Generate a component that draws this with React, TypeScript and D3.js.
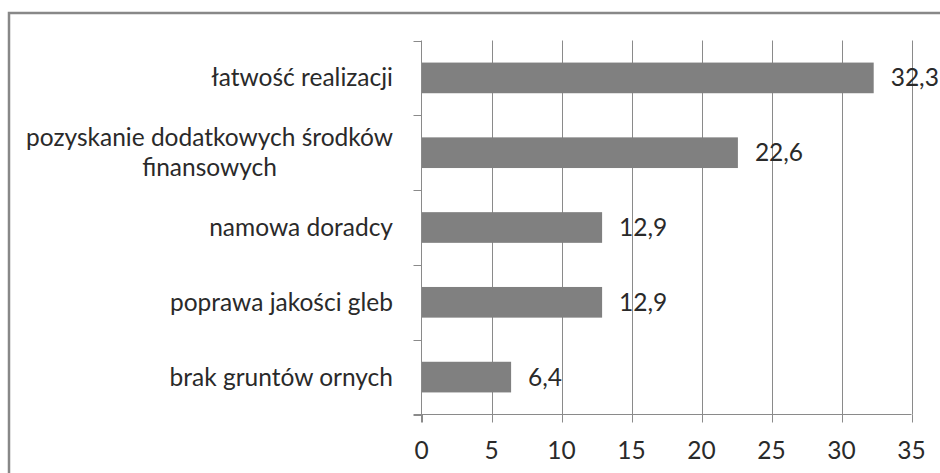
import React, { useEffect, useRef } from 'react';
import * as d3 from 'd3';

// values
const categories = [
  'łatwość realizacji',
  'pozyskanie dodatkowych środków\nfinansowych',
  'namowa doradcy',
  'poprawa jakości gleb',
  'brak gruntów ornych',
];
const values = [32.3, 22.6, 12.9, 12.9, 6.4];
const valueLabels = ['32,3', '22,6', '12,9', '12,9', '6,4'];
const xTicks = [0, 5, 10, 15, 20, 25, 30, 35];

const W = 940;
const H = 473;
const FONT = 'Lato, "Open Sans", sans-serif';
const FS = 24.5;

export default function App() {
  const ref = useRef<SVGSVGElement>(null);

  useEffect(() => {
    const svg = d3.select(ref.current);
    svg.selectAll('*').remove();

    const left = 421.5, right = 911.5, top = 40.5, bottom = 414.5;

    const x = d3.scaleLinear().domain([0, 35]).range([left, right]);
    const y = d3.scaleBand<number>()
      .domain(d3.range(categories.length))
      .range([top, bottom])
      .paddingInner(0.59)
      .paddingOuter(0.295);

    // outer frame
    svg.append('rect')
      .attr('x', 9).attr('y', 13)
      .attr('width', W + 20).attr('height', H + 20)
      .attr('fill', 'white')
      .attr('stroke', '#888').attr('stroke-width', 2.5);

    // vertical gridlines
    svg.append('g')
      .selectAll('line')
      .data(xTicks.slice(1))
      .join('line')
      .attr('x1', d => Math.round(x(d)) + 0.5).attr('x2', d => Math.round(x(d)) + 0.5)
      .attr('y1', top).attr('y2', bottom)
      .attr('stroke', '#8a8a8a').attr('stroke-width', 1);

    // bars
    svg.append('g')
      .selectAll('rect')
      .data(values)
      .join('rect')
      .attr('x', x(0))
      .attr('y', (_, i) => y(i)!)
      .attr('width', d => x(d) - x(0))
      .attr('height', y.bandwidth())
      .attr('fill', '#808080');

    // axes lines
    const axisColor = '#8a8a8a';
    svg.append('line')
      .attr('x1', left).attr('x2', left).attr('y1', top).attr('y2', bottom + 8)
      .attr('stroke', axisColor);
    svg.append('line')
      .attr('x1', left - 8).attr('x2', right).attr('y1', bottom).attr('y2', bottom)
      .attr('stroke', axisColor);

    // x ticks
    svg.append('g')
      .selectAll('line')
      .data(xTicks)
      .join('line')
      .attr('x1', d => Math.round(x(d)) + 0.5).attr('x2', d => Math.round(x(d)) + 0.5)
      .attr('y1', bottom).attr('y2', bottom + 8)
      .attr('stroke', axisColor);

    // y ticks (category boundaries)
    const bounds = d3.range(categories.length + 1).map(i => top + (i * (bottom - top)) / categories.length);
    svg.append('g')
      .selectAll('line')
      .data(bounds)
      .join('line')
      .attr('x1', left - 8).attr('x2', left)
      .attr('y1', d => Math.round(d) + 0.5).attr('y2', d => Math.round(d) + 0.5)
      .attr('stroke', axisColor);

    // x tick labels
    svg.append('g')
      .selectAll('text')
      .data(xTicks)
      .join('text')
      .attr('x', d => x(d))
      .attr('y', 450)
      .attr('dy', '0.35em')
      .attr('text-anchor', 'middle')
      .attr('font-family', FONT)
      .attr('font-size', FS)
      .attr('fill', '#2a2a2a')
      .text(d => d);

    // category labels
    const labelRight = 393;
    const lineH = 30;
    categories.forEach((c, i) => {
      const lines = c.split('\n');
      const cy = y(i)! + y.bandwidth() / 2;
      const t = svg.append('text')
        .attr('font-family', FONT)
        .attr('font-size', FS)
        .attr('fill', '#2a2a2a');
      if (lines.length === 1) {
        t.attr('x', labelRight).attr('y', cy).attr('dy', '0.35em')
          .attr('text-anchor', 'end').text(lines[0]);
      } else {
        const first = t.append('tspan').text(lines[0]);
        const w = (first.node() as SVGTextContentElement).getComputedTextLength();
        const mid = labelRight - w / 2;
        t.attr('text-anchor', 'middle');
        lines.forEach((ln, k) => {
          const span = k === 0 ? first : t.append('tspan').text(ln);
          span.attr('x', mid)
            .attr('y', cy + (k - (lines.length - 1) / 2) * lineH)
            .attr('dy', '0.35em');
        });
      }
    });

    // value labels
    svg.append('g')
      .selectAll('text')
      .data(values)
      .join('text')
      .attr('x', d => x(d) + 17)
      .attr('y', (_, i) => y(i)! + y.bandwidth() / 2)
      .attr('dy', '0.35em')
      .attr('font-family', FONT)
      .attr('font-size', FS)
      .attr('fill', '#2a2a2a')
      .text((_, i) => valueLabels[i]);
  }, []);

  return (
    <div style={{ position: 'absolute', left: 0, top: 0, width: W, height: H, overflow: 'hidden', background: 'white' }}>
      <svg ref={ref} width={W} height={H} />
    </div>
  );
}
